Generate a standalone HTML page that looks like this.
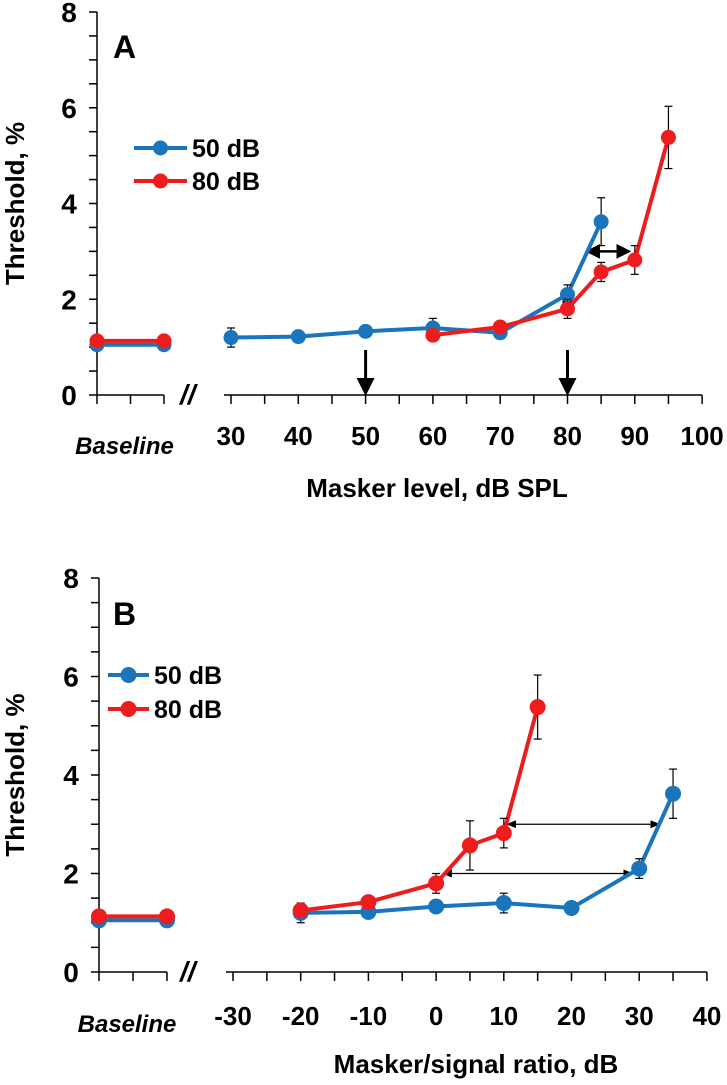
<!DOCTYPE html>
<html><head><meta charset="utf-8"><style>
body{margin:0;background:#fff;overflow:hidden}
svg{display:block;font-family:"Liberation Sans",sans-serif;font-weight:bold}
</style></head><body>
<svg id="chart" width="727" height="1085" viewBox="0 0 727 1085" xmlns="http://www.w3.org/2000/svg"></svg>
<script>
const yTicks=[0,2,4,6,8];
const xTicksA=[30,40,50,60,70,80,90,100];
const xTicksB=[-30,-20,-10,0,10,20,30,40];
const baseline50=[1.05,0.1];
const baseline80=[1.13,0.1];
const xA50=[30,40,50,60,70,80,85];
const yA50=[1.2,1.22,1.33,1.4,1.3,2.1,3.62];
const eA50=[0.2,0.05,0.1,0.2,0.05,0.2,0.5];
const xA80=[60,70,80,85,90,95];
const yA80=[1.25,1.42,1.8,2.57,2.82,5.38];
const eA80=[0.05,0.05,0.2,0.2,0.3,0.65];
const xB50=[-20,-10,0,10,20,30,35];
const yB50=[1.2,1.22,1.33,1.4,1.3,2.1,3.62];
const eB50=[0.2,0.05,0.1,0.2,0.05,0.2,0.5];
const xB80=[-20,-10,0,5,10,15];
const yB80=[1.25,1.42,1.8,2.57,2.82,5.38];
const eB80=[0.1,0.05,0.2,0.5,0.3,0.65];
const NS="http://www.w3.org/2000/svg";
const svg=document.getElementById('chart');
function el(tag,attrs,parent,text){const e=document.createElementNS(NS,tag);for(const k in attrs)e.setAttribute(k,attrs[k]);if(text!==undefined)e.textContent=text;(parent||svg).appendChild(e);return e;}
const defs=el('defs',{});
const m1=el('marker',{id:'ah',markerWidth:6,markerHeight:6,refX:5,refY:3,orient:'auto-start-reverse'},defs);
el('path',{d:'M0,0 L6,3 L0,6 z',fill:'#000'},m1);
const m2=el('marker',{id:'ahs',markerWidth:10,markerHeight:8,refX:9,refY:4,orient:'auto-start-reverse',markerUnits:'userSpaceOnUse'},defs);
el('path',{d:'M0,0 L10,4 L0,8 z',fill:'#000'},m2);

function panel(cfg){
  const g=el('g',{});
  
  
  const Y=v=>cfg.y0-(cfg.y0-cfg.y8)*v/8;
  const X=v=>cfg.xs+(v-cfg.xt[0])*cfg.px;
  const ax=el('line',{x1:cfg.ax,x2:cfg.ax,y1:cfg.y8,y2:cfg.y0,stroke:'#000','stroke-width':1.5},g);
  
  for(let v=0;v<=8;v+=0.5){el('line',{x1:cfg.ax-8,x2:cfg.ax,y1:Y(v),y2:Y(v),stroke:'#000','stroke-width':1.5},g);}
  yTicks.forEach(t=>{const tx=el('text',{x:cfg.ax-28,y:Y(t)+10,'font-size':28,'text-anchor':'middle'},g,String(t));
    });
  el('line',{x1:cfg.ax,x2:cfg.bx2,y1:cfg.y0,y2:cfg.y0,stroke:'#000','stroke-width':1.5},g);
  [cfg.ax,(cfg.ax+cfg.bx2)/2,cfg.bx2].forEach(x=>el('line',{x1:x,x2:x,y1:cfg.y0,y2:cfg.y0+9,stroke:'#000','stroke-width':1.5},g));
  const bl=el('text',{x:(cfg.ax+cfg.bx2)/2-6,y:cfg.blY,'font-size':24,'font-style':'italic','text-anchor':'middle'},g,'Baseline');
  
  const br=el('text',{x:cfg.brX,y:cfg.y0+9,'font-size':28,'font-style':'italic'},g,'//');
  
  const xa=el('line',{x1:cfg.xs-7,x2:X(cfg.xt[cfg.xt.length-1]),y1:cfg.y0,y2:cfg.y0,stroke:'#000','stroke-width':1.5},g);
  
  for(let v=cfg.xt[0];v<=cfg.xt[cfg.xt.length-1];v+=5)el('line',{x1:X(v),x2:X(v),y1:cfg.y0,y2:cfg.y0+9,stroke:'#000','stroke-width':1.5},g);
  cfg.xt.forEach(t=>{const tx=el('text',{x:X(t),y:cfg.tlY,'font-size':26,'text-anchor':'middle'},g,String(t));
    });
  const xt=el('text',{x:cfg.xtX,y:cfg.xtY,'font-size':26,'text-anchor':'middle'},g,cfg.xtitle);
  
  const cy=(cfg.y0+cfg.y8)/2;
  const yt=el('text',{x:0,y:0,'font-size':26,'text-anchor':'middle',transform:`translate(24,${cy}) rotate(-90)`},g,'Threshold, %');
  
  const lab=el('text',{x:cfg.labX,y:cfg.labY,'font-size':cfg.labS},g,cfg.label);
  
  cfg.extras(g,X,Y);
  function series(xs,ys,es,color,nm,bx){
    const sg=el('g',{},g);
    el('line',{x1:cfg.ax,x2:cfg.bx2,y1:Y(bx[0]),y2:Y(bx[0]),stroke:color,'stroke-width':4},sg);
    [cfg.ax,cfg.bx2].forEach(x=>{el('line',{x1:x,x2:x,y1:Y(bx[0]-bx[1]),y2:Y(bx[0]+bx[1]),stroke:'#000','stroke-width':1.2},sg);
      el('circle',{cx:x,cy:Y(bx[0]),r:cfg.r,fill:color},sg);});
    el('polyline',{points:xs.map((x,i)=>X(x)+','+Y(ys[i])).join(' '),fill:'none',stroke:color,'stroke-width':4},sg);
    xs.forEach((x,i)=>{const px=X(x);
      el('line',{x1:px,x2:px,y1:Y(ys[i]-es[i]),y2:Y(ys[i]+es[i]),stroke:'#000','stroke-width':1.2},sg);
      [ys[i]-es[i],ys[i]+es[i]].forEach(v=>el('line',{x1:px-4,x2:px+4,y1:Y(v),y2:Y(v),stroke:'#000','stroke-width':1.2},sg));
      const c=el('circle',{cx:px,cy:Y(ys[i]),r:cfg.r,fill:color},sg);
      });
  }
  series(cfg.x50,cfg.y50,cfg.e50,'#1a75bc','series-50db',baseline50);
  series(cfg.x80,cfg.y80,cfg.e80,'#ee1c1c','series-80db',baseline80);
  [['#1a75bc','50 dB',cfg.lgY1],['#ee1c1c','80 dB',cfg.lgY2]].forEach(([c,t,y])=>{
    const lg=el('g',{},g);
    el('line',{x1:cfg.lgX1,x2:cfg.lgX2,y1:y,y2:y,stroke:c,'stroke-width':4},lg);
    el('circle',{cx:(cfg.lgX1+cfg.lgX2)/2,cy:y,r:cfg.r,fill:c},lg);
    el('text',{x:cfg.lgX2+5,y:y+9,'font-size':25},lg,t);
  });
}
panel({name:'panel-a',ax:97,y0:395,y8:12,bx2:164,xs:231,px:6.73,xt:xTicksA,brX:180,tlY:445,blY:454,
  xtitle:'Masker level, dB SPL',xtX:437,xtY:497,label:'A',labX:113,labY:58,labS:32,r:7.5,
  x50:xA50,y50:yA50,e50:eA50,x80:xA80,y80:yA80,e80:eA80,lgX1:134,lgX2:187,lgY1:148,lgY2:181,
  extras:(g,X,Y)=>{
    [50,80].forEach(v=>{const a=el('line',{x1:X(v),x2:X(v),y1:350,y2:393,stroke:'#000','stroke-width':3,'marker-end':'url(#ah)'},g);
      });
    const d=el('line',{x1:X(83),x2:X(90)-6,y1:Y(3),y2:Y(3),stroke:'#000','stroke-width':2.5,'marker-start':'url(#ah)','marker-end':'url(#ah)'},g);
    
    el('rect',{x:X(80)-5,y:Y(1.97)-4,width:10,height:8,fill:'#000'},g);
  }});
panel({name:'panel-b',ax:99,y0:972,y8:578,bx2:167,xs:233,px:6.77,xt:xTicksB,brX:180,tlY:1025,blY:1032,
  xtitle:'Masker/signal ratio, dB',xtX:476,xtY:1073,label:'B',labX:113,labY:625,labS:32,r:8,
  x50:xB50,y50:yB50,e50:eB50,x80:xB80,y80:yB80,e80:eB80,lgX1:108,lgX2:149,lgY1:675,lgY2:709,
  extras:(g,X,Y)=>{
    const a1=el('line',{x1:X(10.5),x2:X(33),y1:Y(3),y2:Y(3),stroke:'#000','stroke-width':1.3,'marker-start':'url(#ahs)','marker-end':'url(#ahs)'},g);
    
    const a2=el('line',{x1:X(1),x2:X(29),y1:Y(2),y2:Y(2),stroke:'#000','stroke-width':1.3,'marker-start':'url(#ahs)','marker-end':'url(#ahs)'},g);
    
  }});
</script>
</body></html>
